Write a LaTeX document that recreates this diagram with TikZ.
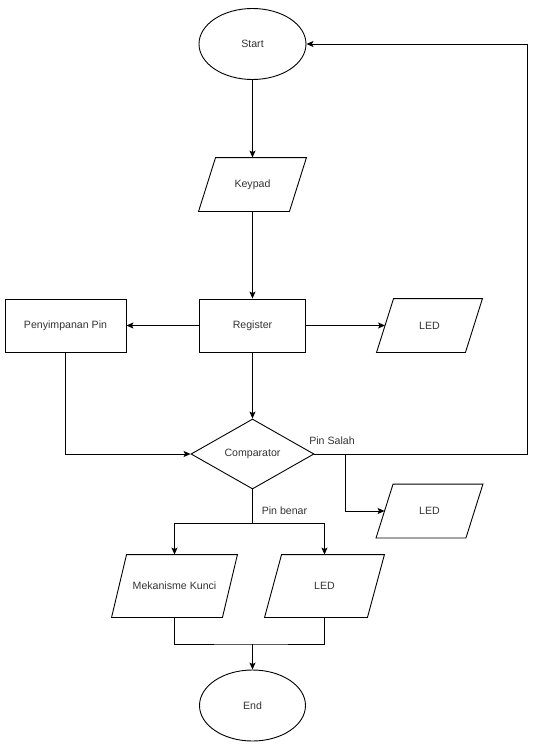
\documentclass[tikz,border=0pt]{standalone}
\usepackage{fontspec}
\setmainfont{Liberation Sans}
\usetikzlibrary{shapes.geometric,arrows.meta,calc}
\definecolor{txt}{HTML}{333333}
\newcommand\drawpara[2]{%
  \draw[line] ($(#1.south west)+(-#2/2,0)$) -- ($(#1.north west)+(#2/2,0)$) --
    ($(#1.north east)+(#2/2,0)$) -- ($(#1.south east)+(-#2/2,0)$) -- cycle;}
\begin{document}
\begin{tikzpicture}[x=1pt,y=-1pt,
  base/.style={draw=black,line width=0.9pt,inner sep=0pt,font=\fontsize{10.6}{12}\selectfont,text=txt},
  term/.style={base,ellipse,minimum width=107pt,minimum height=71pt},
  proc/.style={base,rectangle,minimum height=53pt},
  io/.style={base,draw=none,rectangle,minimum height=53pt},
  iob/.style={base,draw=none,rectangle,minimum height=62pt},
  dec/.style={base,diamond,aspect=1.757,minimum width=123pt,minimum height=70pt},
  conn/.style={draw=black,line width=0.9pt,-{Stealth[length=7pt,width=6pt,inset=1.5pt]}},
  line/.style={draw=black,line width=0.9pt},
  lbl/.style={font=\fontsize{10.6}{12}\selectfont,text=txt,inner sep=0pt}]
\useasboundingbox (0,0) rectangle (535,752);
\node[term] (start) at (252.5,44) {Start};
\node[io,minimum width=90pt] (keypad) at (252.5,184.5) {Keypad};
\node[proc,minimum width=106pt] (reg) at (252.5,325.5) {Register};
\node[proc,minimum width=121pt] (pin) at (65.5,325.5) {Penyimpanan Pin};
\node[io,minimum width=88pt] (led1) at (429.5,325.5) {LED};
\node[dec] (comp) at (252.5,454) {Comparator};
\node[io,minimum width=89pt] (led2) at (429.5,511) {LED};
\node[iob,minimum width=110pt] (mek) at (174.5,586) {Mekanisme Kunci};
\node[iob,minimum width=102pt] (led3) at (324.5,586) {LED};
\node[term,minimum width=106pt] (end) at (252.5,705.5) {End};
\node[lbl] (salah) at (332,441) {Pin Salah};
\node[lbl] (benar) at (284.5,511) {Pin benar};
\drawpara{keypad}{17}
\drawpara{led1}{17}
\drawpara{led2}{17}
\drawpara{mek}{15}
\drawpara{led3}{17}
\coordinate (rt) at (527,454);
\coordinate (br) at (345,454);
\coordinate (split) at (252.5,523);
\coordinate (merge) at (252.5,644);
\draw[conn] (start.south) -- (keypad.north);
\draw[conn] (keypad.south) -- (reg.north);
\draw[conn] (reg.west) -- (pin.east);
\draw[conn] (reg.east) -- (led1.west);
\draw[conn] (reg.south) -- (comp.north);
\draw[conn] (pin.south) |- (comp.west);
\draw[conn] (comp.east) -- (rt) |- (start.east);
\draw[conn] (br) |- (led2.west);
\draw[line] (comp.south) -- (split);
\draw[conn] (split) -| (mek.north);
\draw[conn] (split) -| (led3.north);
\draw[line] (mek.south) |- (merge) -| (led3.south);
\draw[conn] (merge) -- (end.north);
\end{tikzpicture}
\end{document}
